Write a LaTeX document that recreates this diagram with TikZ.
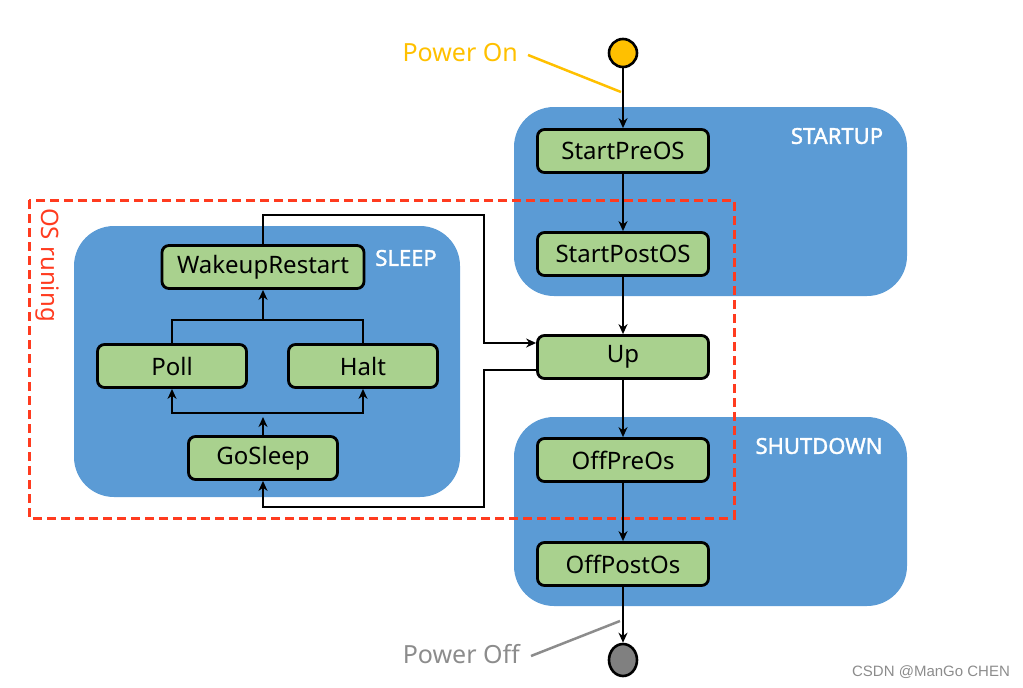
\documentclass[tikz,border=0pt]{standalone}
\usepackage{fontspec}
\setmainfont{Noto Sans}
\newfontfamily\markfont{Liberation Sans}
\newfontfamily\groupfont[FakeBold=1.6]{Noto Sans}
\usepackage{tikz}
\usetikzlibrary{arrows, arrows.meta}
\usetikzlibrary{shapes.geometric, positioning}

\definecolor{boxblue}{HTML}{5B9BD5}
\definecolor{stategreen}{HTML}{A9D18E}
\definecolor{poweron}{HTML}{FFC000}
\definecolor{poweroff}{HTML}{808080}
\definecolor{offtext}{HTML}{8C8C8C}
\definecolor{osred}{HTML}{FF3B1F}

\begin{document}
\begin{tikzpicture}[x=1pt,y=-1pt]
\tikzstyle{every node}+=[inner sep=0pt]
\tikzstyle{state}=[draw=black, line width=2.8pt, fill=stategreen, rounded corners=7pt, minimum width=171pt, minimum height=43pt, font=\fontsize{24}{26}\selectfont]
\tikzstyle{group}=[fill=boxblue, rounded corners=40pt]
\tikzstyle{grouplabel}=[text=white, font=\groupfont\fontsize{22}{24}\selectfont]
\tikzstyle{flow}=[black, line width=2.6pt, -{Stealth[length=10pt,width=9pt]}]
\tikzstyle{wire}=[black, line width=2.6pt]
\useasboundingbox (0,0) rectangle (1023,688);

\fill[group] (514,107) rectangle (907,296);
\fill[group] (514,417) rectangle (907,606);
\fill[group] (74,226) rectangle (460,497);
\node[grouplabel] (startup) at (837,136) {STARTUP};
\node[grouplabel] (shutdown) at (819,446) {SHUTDOWN};
\node[grouplabel] (sleep) at (406,258) {SLEEP};

\draw[osred, line width=3pt, dash pattern=on 9pt off 5pt] (29,200) rectangle (734,518);
\node[rotate=-90, text=osred, font=\fontsize{24}{26}\selectfont] (ostext) at (47,265) {OS runing};

\node[circle, draw=black, line width=2.6pt, fill=poweron, minimum size=28pt] (pon) at (623,53) {};
\node[ellipse, draw=black, line width=2.6pt, fill=poweroff, minimum width=28pt, minimum height=32pt] (poff) at (623,660) {};

\node[state] (preos) at (623,151) {StartPreOS};
\node[state] (postos) at (623,254) {StartPostOS};
\node[state] (up) at (623,357) {Up};
\node[state] (offpre) at (623,460) {OffPreOs};
\node[state] (offpost) at (623,564) {OffPostOs};
\node[state, minimum width=202pt] (wake) at (263,267) {WakeupRestart};
\node[state, minimum width=149pt] (poll) at (172,366) {Poll};
\node[state, minimum width=149pt] (halt) at (363,366) {Halt};
\node[state, minimum width=149pt] (gosleep) at (263,458) {GoSleep};

\node[text=poweron, font=\fontsize{25}{27}\selectfont, anchor=east] (ontext) at (518,53) {Power On};
\node[text=offtext, font=\fontsize{25}{27}\selectfont, anchor=east] (offtext) at (520,654) {Power Off};
\node[text=offtext, font=\markfont\fontsize{15}{17}\selectfont] (mark) at (931,672) {CSDN @ManGo CHEN};

\coordinate (ontap) at (621,92);
\coordinate (offtap) at (620,621);
\draw[poweron, line width=2.5pt] ([xshift=10pt,yshift=-2pt]ontext.east) -- (ontap);
\draw[offtext, line width=2.5pt] ([xshift=11pt,yshift=-2pt]offtext.east) -- (offtap);

\draw[flow] (pon) -- (preos);
\draw[flow] (preos) -- (postos);
\draw[flow] (postos) -- (up);
\draw[flow] (up) -- (offpre);
\draw[flow] (offpre) -- (offpost);
\draw[flow] (offpost) -- (poff);

\coordinate (upin) at ([yshift=14pt]up.west);
\coordinate (upout) at ([yshift=-13pt]up.west);
\coordinate (jt) at (484,215);
\coordinate (jb) at (484,507);
\draw[flow] (wake.north) |- (jt) |- (upin);
\draw[flow] (upout) -| (jb) -| (gosleep.south);

\coordinate (sj) at (263,413);
\coordinate (wj) at (263,320);
\draw[flow, shorten >=4pt] (gosleep.north) -- (sj);
\draw[flow] (sj) -| (poll.south);
\draw[flow] (sj) -| (halt.south);
\draw[wire] (poll.north) |- (wj);
\draw[wire] (halt.north) |- (wj);
\draw[flow] (wj) -- (wake.south);
\end{tikzpicture}
\end{document}
